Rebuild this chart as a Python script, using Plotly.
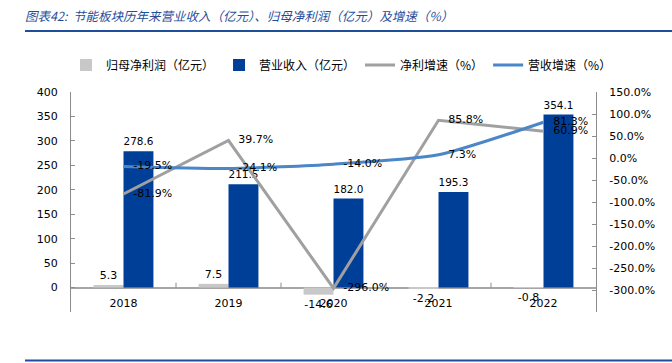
import plotly.graph_objects as go

years = ["2018", "2019", "2020", "2021", "2022"]
net_profit = [5.3, 7.5, -14.6, -2.2, -0.8]          # 归母净利润（亿元）
revenue = [278.6, 211.5, 182.0, 195.3, 354.1]        # 营业收入（亿元）
net_growth = [-81.9, 39.7, -296.0, 85.8, 60.9]       # 净利增速（%）
rev_growth = [-19.5, -24.1, -14.0, 7.3, 81.3]        # 营收增速（%）
left_ticks = list(range(-50, 401, 50))
right_ticks = list(range(-350, 151, 50))

GREY_BAR = "#C8C8C8"
BLUE_BAR = "#003F98"
GREY_LINE = "#A0A0A0"
BLUE_LINE = "#4A86C8"
TITLE_BLUE = "#1F4E9A"
AXIS_GREY = "#8C8C8C"
NUM_FONT = "DejaVu Sans"
CJK_FONT = "Noto Sans CJK SC"

fig = go.Figure()

fig.add_trace(go.Bar(
    x=years, y=net_profit, name="归母净利润（亿元）",
    marker=dict(color=GREY_BAR, line=dict(width=0)),
    text=[f"{v:.1f}" for v in net_profit], textposition="outside",
    textfont=dict(family=NUM_FONT, size=11, color="#000"),
    cliponaxis=False, hoverinfo="skip",
))
fig.add_trace(go.Bar(
    x=years, y=revenue, name="营业收入（亿元）",
    marker=dict(color=BLUE_BAR, line=dict(width=0)),
    text=[f"{v:.1f}" for v in revenue], textposition="outside",
    textfont=dict(family=NUM_FONT, size=11, color="#000"),
    cliponaxis=False, hoverinfo="skip",
))
fig.add_trace(go.Scatter(
    x=years, y=net_growth, name="净利增速（%）", yaxis="y2", mode="lines",
    line=dict(color=GREY_LINE, width=3), hoverinfo="skip",
))
fig.add_trace(go.Scatter(
    x=years, y=rev_growth, name="营收增速（%）", yaxis="y2", mode="lines",
    line=dict(color=BLUE_LINE, width=3, shape="spline", smoothing=0.6),
    hoverinfo="skip",
))
# data labels for the lines
for vals in (net_growth, rev_growth):
    fig.add_trace(go.Scatter(
        x=years, y=vals, yaxis="y2", mode="markers+text", showlegend=False,
        marker=dict(size=14, color="rgba(0,0,0,0)"),
        text=[f"{v:.1f}%" for v in vals], textposition="middle right",
        textfont=dict(family=NUM_FONT, size=11, color="#000"),
        cliponaxis=False, hoverinfo="skip",
    ))

# small category boundary ticks on the zero line
shapes = []
for i in range(len(years) - 1):
    shapes.append(dict(type="line", xref="x", yref="y", x0=i + 0.5, x1=i + 0.5,
                       y0=0, y1=10, line=dict(color=AXIS_GREY, width=1)))
# title underline and bottom rule
shapes.append(dict(type="line", xref="paper", yref="paper", x0=-0.0876, x1=1.145,
                   y0=1.277, y1=1.277, line=dict(color=TITLE_BLUE, width=2)))
shapes.append(dict(type="line", xref="paper", yref="paper", x0=-0.0876, x1=1.145,
                   y0=-0.22, y1=-0.22, line=dict(color=TITLE_BLUE, width=2)))

fig.update_layout(
    width=672, height=363,
    margin=dict(l=71, r=76, t=92, b=51, autoexpand=False),
    paper_bgcolor="white", plot_bgcolor="white",
    barmode="group", bargap=0.43, bargroupgap=0,
    showlegend=True,
    title=dict(text="<i>图表42:  节能板块历年来营业收入（亿元）、归母净利润（亿元）及增速（%）</i>",
               xref="container", yref="container", x=25 / 672, y=1 - 17 / 363,
               xanchor="left", yanchor="middle",
               font=dict(family=CJK_FONT, size=12.5, color=TITLE_BLUE)),
    legend=dict(orientation="h", xref="paper", yref="paper",
                x=-0.0095, y=1.123, xanchor="left", yanchor="middle",
                font=dict(family=CJK_FONT, size=12, color="#000"),
                itemwidth=30, tracegroupgap=0),
    xaxis=dict(type="category", showline=False, showgrid=False, ticks="",
               ticklabelposition="inside",
               tickfont=dict(family=NUM_FONT, size=11, color="#000"),
               zeroline=False),
    yaxis=dict(range=[-50.01, 400], tickvals=left_ticks,
               ticktext=[str(v) for v in left_ticks],
               showgrid=False,
               showline=True, linecolor=AXIS_GREY, linewidth=1,
               ticks="inside", ticklen=4, tickcolor=AXIS_GREY,
               ticklabelstandoff=10,
               zeroline=True, zerolinecolor="#A6A6A6", zerolinewidth=1.5,
               tickfont=dict(family=NUM_FONT, size=11, color="#000")),
    yaxis2=dict(range=[-350.01, 150], tickvals=right_ticks,
                ticktext=[f"{v:.1f}%" for v in right_ticks],
                overlaying="y", side="right",
                showgrid=False, showline=True, linecolor=AXIS_GREY, linewidth=1,
                ticks="inside", ticklen=4, tickcolor=AXIS_GREY,
                ticklabelstandoff=10, zeroline=False,
                tickfont=dict(family=NUM_FONT, size=11, color="#000")),
    shapes=shapes,
)

fig.write_html("out.html", config={"displayModeBar": False},
               post_script="document.body.style.margin='0';")
